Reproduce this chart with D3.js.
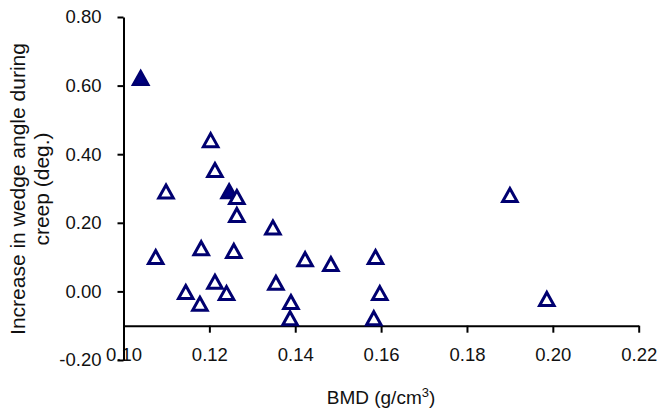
<!DOCTYPE html>
<html>
<head>
<meta charset="utf-8">
<script src="https://cdn.jsdelivr.net/npm/d3@7"></script>
<style>
  body { margin: 0; background: #fff; }
  text { font-family: "Liberation Sans", Arial, sans-serif; }
</style>
</head>
<body>
<svg id="chart" width="658" height="412"></svg>
<script>
// BMD (g/cm3) and increase in wedge angle (deg.)
var bmd = [0.1040, 0.1203, 0.1213, 0.1246, 0.1264, 0.1099, 0.1264, 0.1348, 0.1075,
           0.1181, 0.1257, 0.1145, 0.1178, 0.1213, 0.1240, 0.1355, 0.1390, 0.1388,
           0.1423, 0.1483, 0.1587, 0.1597, 0.1583, 0.1900, 0.1986];
var wedge = [0.622, 0.441, 0.354, 0.292, 0.275, 0.291, 0.223, 0.186, 0.100,
             0.126, 0.118, -0.002, -0.036, 0.028, -0.005, 0.025, -0.031, -0.078,
             0.094, 0.080, 0.100, -0.005, -0.078, 0.281, -0.022];
// filled markers
var solid = [true, false, false, true, false, false, false, false, false,
             false, false, false, false, false, false, false, false, false,
             false, false, false, false, false, false, false];

var xTicks = [0.10, 0.12, 0.14, 0.16, 0.18, 0.20, 0.22];
var yTicks = [-0.20, 0.00, 0.20, 0.40, 0.60, 0.80];

function fmt(d) {
    return d.toFixed(2);   // plain hyphen for negatives, like the original
}

var svg = d3.select("#chart");

var x = d3.scaleLinear()
    .domain([0.10, 0.22])
    .range([123.5, 638.7]);

var y = d3.scaleLinear()
    .domain([-0.20, 0.80])
    .range([360, 17]);

svg.append("g")
    .attr("transform", "translate(0," + y(-0.10) + ")")
    .call(d3.axisBottom(x)
        .tickValues(xTicks)
        .tickSize(7)
        .tickSizeOuter(0)
        .tickPadding(15)
        .tickFormat(fmt));

svg.append("g")
    .attr("transform", "translate(" + x(0.10) + ",0)")
    .call(d3.axisLeft(y)
        .tickValues(yTicks)
        .tickSize(6)
        .tickSizeOuter(0)
        .tickPadding(16)
        .tickFormat(fmt));

svg.selectAll(".domain, .tick line")
    .attr("stroke", "#000")
    .attr("stroke-width", 2);
svg.selectAll(".tick text")
    .attr("fill", "#111")
    .style("font-size", "18.5px");

// triangle markers, shifted so the box centre sits on the value
var tw = 14.5, th = 13;
function tri() {
    return "M0," + (-th / 2) + "L" + (tw / 2) + "," + (th / 2) + "L" + (-tw / 2) + "," + (th / 2) + "Z";
}

svg.append("g")
    .selectAll("path")
    .data(bmd)
    .enter().append("path")
    .attr("d", tri)
    .attr("transform", function (d, i) { return "translate(" + x(d) + "," + y(wedge[i]) + ")"; })
    .attr("fill", function (d, i) { return solid[i] ? "#000080" : "#fff"; })
    .attr("stroke", "#000070")
    .attr("stroke-width", 3)
    .attr("stroke-linejoin", "miter");

// axis titles
var xt = svg.append("text")
    .attr("x", 381)
    .attr("y", 404)
    .attr("text-anchor", "middle")
    .attr("fill", "#111")
    .style("font-size", "19px");
xt.append("tspan").text("BMD (g/cm");
xt.append("tspan").attr("dy", -7).style("font-size", "13px").text("3");
xt.append("tspan").attr("dy", 7).text(")");

var yt = svg.append("text")
    .attr("transform", "translate(0,189) rotate(-90)")
    .attr("text-anchor", "middle")
    .attr("fill", "#111")
    .style("font-size", "21px");
yt.append("tspan").attr("x", 0).attr("y", 25).text("Increase in wedge angle during");
yt.append("tspan").attr("x", 0).attr("y", 49).text("creep (deg.)");
</script>
</body>
</html>
